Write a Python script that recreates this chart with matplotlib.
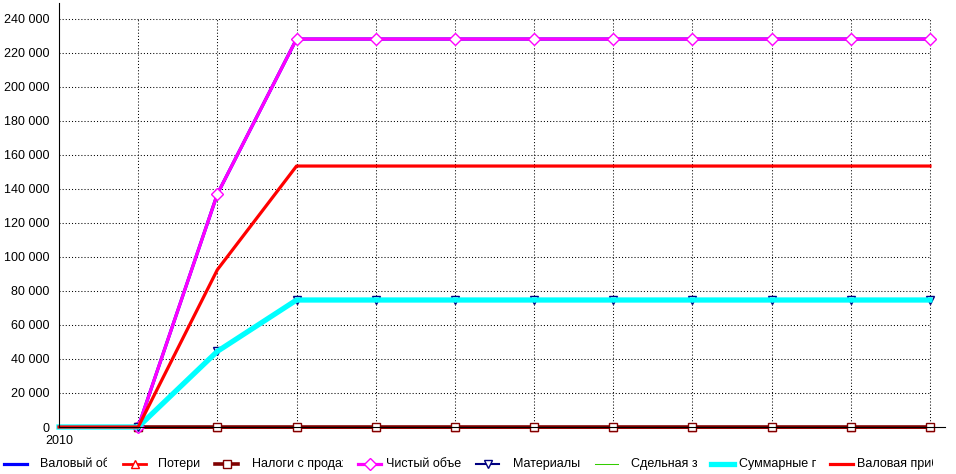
import matplotlib.pyplot as plt
from matplotlib.transforms import Bbox

plt.rcParams['font.family'] = ['Liberation Sans', 'DejaVu Sans']

# данные графика
periods = list(range(12))
xlabels = ['2010'] + [''] * 11

valovy_obem = [0, 0, 137000, 228200, 228200, 228200, 228200, 228200, 228200, 228200, 228200, 228200]
poteri = [0] * 12
nalogi = [0] * 12
chisty_obem = [0, 0, 137000, 228200, 228200, 228200, 228200, 228200, 228200, 228200, 228200, 228200]
materialy = [0, 0, 44500, 74700, 74700, 74700, 74700, 74700, 74700, 74700, 74700, 74700]
sdelnaya = [0] * 12
summarnye = [0, 0, 44500, 74700, 74700, 74700, 74700, 74700, 74700, 74700, 74700, 74700]
valovaya_pribyl = [0, 0, 92500, 153500, 153500, 153500, 153500, 153500, 153500, 153500, 153500, 153500]

yticks = list(range(0, 240001, 20000))

# подписи легенды (в оригинале обрезаны по ширине ячейки)
legend_names = ['Валовый объ', 'Потери', 'Налоги с продаж', 'Чистый объем',
                'Материалы', 'Сдельная за', 'Суммарные п', 'Валовая приб']

W, H = 956, 474
fig = plt.figure(figsize=(W / 100, H / 100), dpi=100)
ax = fig.add_axes([59 / W, (H - 427) / H, (945 - 59) / W, (427 - 3) / H])

# сетка только внутри области данных
dots = (0, (1, 2))
ax.hlines(yticks[1:], periods[0], periods[-1], colors='black', linewidth=0.75, linestyle=dots, zorder=0)
ax.vlines(periods[1:], 0, yticks[-1], colors='black', linewidth=0.75, linestyle=dots, zorder=0)

mk = list(range(1, 12))
series = [
    (valovy_obem, dict(color='#0000ff', lw=2.3)),
    (poteri, dict(color='#ff0000', lw=2.0, marker='^', ms=6, mfc='white', mec='#ff0000')),
    (nalogi, dict(color='#800000', lw=2.6, marker='s', ms=6, mfc='white', mec='#800000')),
    (chisty_obem, dict(color='#ff00ff', lw=2.3, marker='D', ms=6, mfc='white', mec='#ff00ff')),
    (materialy, dict(color='#000080', lw=1.5, marker='v', ms=6, mfc='white', mec='#000080')),
    (sdelnaya, dict(color='#33cc00', lw=0.75)),
    (summarnye, dict(color='#00ffff', lw=3.8)),
    (valovaya_pribyl, dict(color='#ff0000', lw=2.3)),
]
for vals, st in series:
    line, = ax.plot(periods, vals, clip_on=False, markevery=mk, **st)
    if vals is sdelnaya:
        line.set_dashes((12, 5))

ax.set_xlim(0, 11.19)
ax.set_ylim(0, 249400)
ax.set_xticks(periods)
ax.set_xticklabels(xlabels)
ax.set_yticks(yticks)
ax.set_yticklabels([f'{v:,}'.replace(',', ' ') for v in yticks])
ax.tick_params(length=0, labelsize=9, colors='black')
ax.tick_params(axis='y', pad=7)
ax.tick_params(axis='x', pad=6)
ax.spines['top'].set_visible(False)
ax.spines['right'].set_visible(False)

# легенда вручную
handle_x = [4, 123, 215, 358, 476, 595, 711, 830]
text_x = [40, 158, 252, 386, 513, 631, 739, 857]
clip_x = [107, 205, 343, 462, 600, 697, 816, 933]
ly = H - 464
for i, (vals, st) in enumerate(series):
    x0, x1 = handle_x[i], handle_x[i] + 23
    kw = dict(st)
    ln = plt.Line2D([x0, x1], [ly, ly], transform=None, **{k: v for k, v in kw.items() if k != 'marker'})
    fig.add_artist(ln)
    if kw.get('marker'):
        m = plt.Line2D([(x0 + x1) / 2], [ly], transform=None, linestyle='none',
                       **{k: v for k, v in kw.items() if k != 'lw'})
        fig.add_artist(m)
    t = fig.text(text_x[i] / W, ly / H, legend_names[i], fontsize=9, va='center', ha='left')
    t.set_clip_box(Bbox.from_extents(0, 0, clip_x[i], H))
    t.set_clip_on(True)

fig.savefig('out.png', dpi=100)
